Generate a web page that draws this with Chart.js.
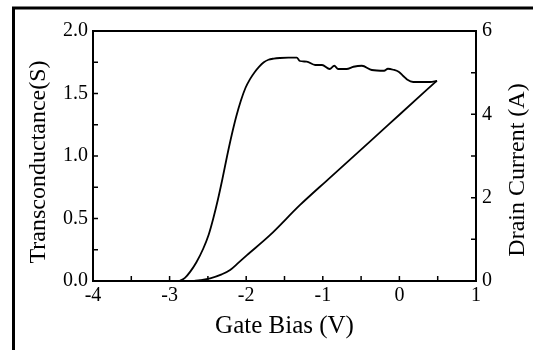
<!DOCTYPE html>
<html>
<head>
<meta charset="utf-8">
<script src="https://cdn.jsdelivr.net/npm/chart.js@4/dist/chart.umd.min.js"></script>
<style>
  html, body { margin: 0; padding: 0; background: #fff; }
</style>
</head>
<body>
<canvas id="chart" width="533" height="350"></canvas>
<script>
// transconductance (left axis, S) vs gate bias (V)
const gmBias = [-2.87, -2.80, -2.73, -2.65, -2.56, -2.49, -2.43, -2.37, -2.31, -2.25, -2.19, -2.13, -2.07, -2.01,
  -1.95, -1.89, -1.83, -1.77, -1.71, -1.64, -1.56, -1.45, -1.34, -1.30, -1.21, -1.10, -1.01, -0.91, -0.85, -0.80,
  -0.69, -0.60, -0.49, -0.36, -0.20, -0.15, -0.08, -0.01, 0.05, 0.10, 0.18, 0.30, 0.40, 0.49];
const gmValues = [0, 0.025, 0.075, 0.15, 0.26, 0.37, 0.50, 0.65, 0.818, 0.998, 1.166, 1.316, 1.442, 1.544,
  1.615, 1.67, 1.715, 1.75, 1.77, 1.779, 1.784, 1.787, 1.787, 1.76, 1.755, 1.728, 1.728, 1.696, 1.722, 1.696,
  1.696, 1.714, 1.722, 1.688, 1.682, 1.698, 1.69, 1.674, 1.64, 1.612, 1.592, 1.592, 1.592, 1.60];

// drain current (right axis, A) vs gate bias (V)
const idBias = [-2.69, -2.60, -2.47, -2.32, -2.21, -2.10, -1.99, -1.69, -1.30, -0.93, -0.40, 0.00, 0.49];
const idValues = [0, 0.02, 0.065, 0.16, 0.264, 0.44, 0.62, 1.10, 1.82, 2.44, 3.32, 3.99, 4.81];

// tick marks (drawn inward)
const xTicks = [-4, -3.5, -3, -2.5, -2, -1.5, -1, -0.5, 0, 0.5, 1];
const gmTicks = [0, 0.25, 0.5, 0.75, 1, 1.25, 1.5, 1.75, 2];
const idTicks = [0, 1, 2, 3, 4, 5, 6];

const serif = 'Liberation Serif';

const framePlugin = {
    id: 'frame',
    beforeDraw(chart) {
        const ctx = chart.ctx;
        ctx.save();
        ctx.fillStyle = '#fff';
        ctx.fillRect(0, 0, chart.width, chart.height);
        ctx.strokeStyle = '#000';
        ctx.lineWidth = 3;
        ctx.beginPath();
        ctx.moveTo(13.5, chart.height);
        ctx.lineTo(13.5, 8);
        ctx.lineTo(chart.width, 8);
        ctx.stroke();
        ctx.restore();
    },
    afterDraw(chart) {
        const ctx = chart.ctx;
        const area = chart.chartArea;
        const {x, y, y1} = chart.scales;
        ctx.save();
        ctx.strokeStyle = '#000';
        ctx.lineWidth = 2;
        ctx.beginPath();
        ctx.moveTo(area.left - 1, area.top);
        ctx.lineTo(area.right + 1, area.top);
        ctx.stroke();

        ctx.lineWidth = 1.5;
        ctx.beginPath();
        for (const v of xTicks) {
            const px = x.getPixelForValue(v);
            ctx.moveTo(px, area.bottom);
            ctx.lineTo(px, area.bottom - 5);
        }
        for (const v of gmTicks) {
            const py = y.getPixelForValue(v);
            ctx.moveTo(area.left, py);
            ctx.lineTo(area.left + 5, py);
        }
        for (const v of idTicks) {
            const py = y1.getPixelForValue(v);
            ctx.moveTo(area.right, py);
            ctx.lineTo(area.right - 5, py);
        }
        ctx.stroke();

        // y axis titles, both reading bottom to top
        ctx.fillStyle = '#000';
        ctx.font = '24px "' + serif + '"';
        ctx.textAlign = 'center';
        ctx.textBaseline = 'middle';
        ctx.translate(39, 162);
        ctx.rotate(-Math.PI / 2);
        ctx.fillText('Transconductance(S)', 0, 0);
        ctx.setTransform(1, 0, 0, 1, 0, 0);
        ctx.translate(518, 170);
        ctx.rotate(-Math.PI / 2);
        ctx.fillText('Drain Current (A)', 0, 0);
        ctx.restore();
    }
};

new Chart(document.getElementById('chart'), {
    type: 'line',
    data: {
        datasets: [{
            label: 'Transconductance',
            data: gmBias.map((v, i) => ({x: v, y: gmValues[i]})),
            yAxisID: 'y',
            borderColor: '#000',
            borderWidth: 1.8,
            pointRadius: 0,
            cubicInterpolationMode: 'monotone'
        }, {
            label: 'Drain Current',
            data: idBias.map((v, i) => ({x: v, y: idValues[i]})),
            yAxisID: 'y1',
            borderColor: '#000',
            borderWidth: 1.8,
            pointRadius: 0,
            cubicInterpolationMode: 'monotone'
        }]
    },
    options: {
        responsive: false,
        animation: false,
        devicePixelRatio: 1,
        layout: {padding: {top: 31, left: 0, right: 0, bottom: 0}},
        plugins: {legend: {display: false}, tooltip: {enabled: false}},
        scales: {
            x: {
                type: 'linear',
                min: -4,
                max: 1,
                grid: {display: false, drawTicks: false},
                border: {color: '#000', width: 2},
                ticks: {stepSize: 1, color: '#000', padding: 3, font: {family: serif, size: 20}},
                title: {display: true, text: 'Gate Bias (V)', color: '#000', font: {family: serif, size: 25}, padding: {top: 0, bottom: 9}},
                afterFit(scale) { scale.height = 69; }
            },
            y: {
                position: 'left',
                min: 0,
                max: 2,
                grid: {display: false, drawTicks: false},
                border: {color: '#000', width: 2},
                ticks: {stepSize: 0.5, color: '#000', padding: 5, font: {family: serif, size: 20},
                    callback: v => v.toFixed(1)},
                afterFit(scale) { scale.width = 93; }
            },
            y1: {
                position: 'right',
                min: 0,
                max: 6,
                grid: {display: false, drawTicks: false},
                border: {color: '#000', width: 2},
                ticks: {stepSize: 2, color: '#000', padding: 6, font: {family: serif, size: 20}},
                afterFit(scale) { scale.width = 57; }
            }
        }
    },
    plugins: [framePlugin]
});
</script>
</body>
</html>
